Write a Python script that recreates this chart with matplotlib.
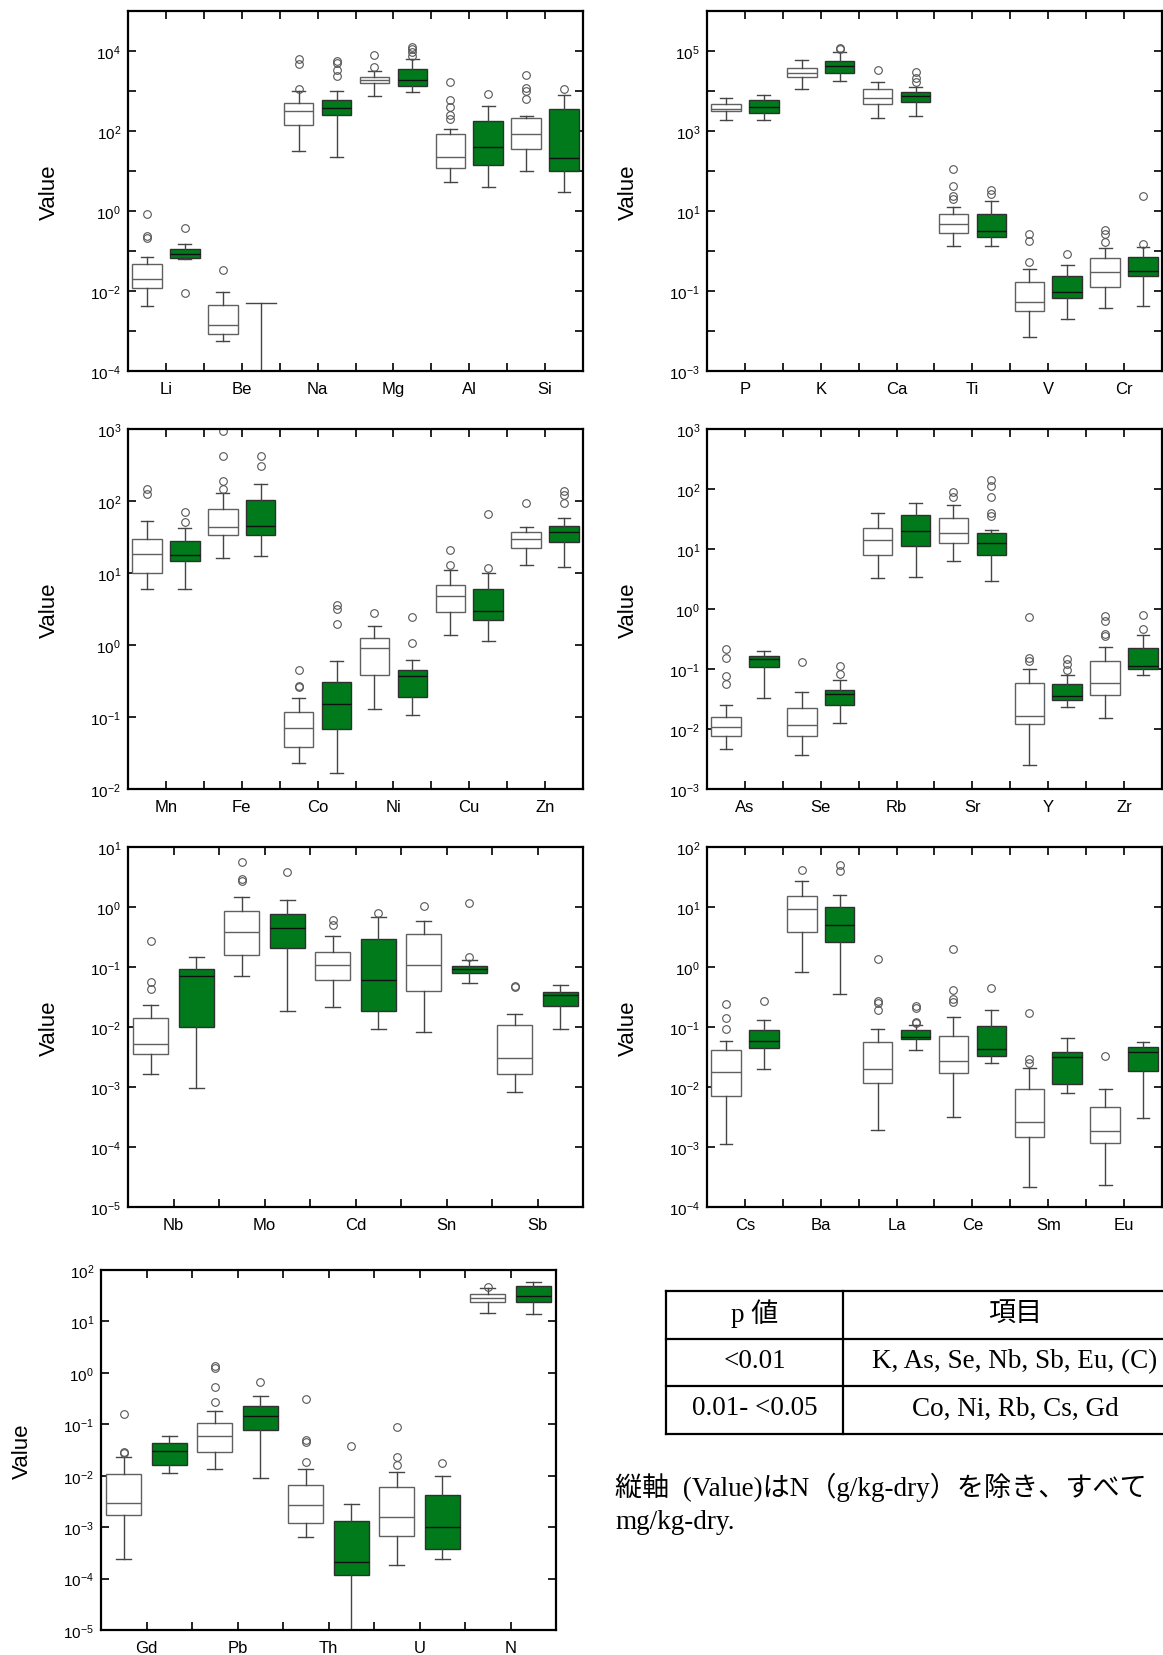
import matplotlib
matplotlib.use("Agg")
import matplotlib.pyplot as plt
from matplotlib.ticker import FixedLocator, FuncFormatter
from matplotlib.lines import Line2D

plt.rcParams['font.family'] = ['Liberation Sans', 'Noto Sans CJK JP']
plt.rcParams['mathtext.default'] = 'regular'

# ---------------------------------------------------------------------------
# Box statistics per element: (whisker low, Q1, median, Q3, whisker high)
# "W" = white group, "G" = green group; outliers listed separately.
# ---------------------------------------------------------------------------
ELEM_1 = ["Li", "Be", "Na", "Mg", "Al", "Si"]
BOX_1W = [(0.0042, 0.0119, 0.0204, 0.046, 0.0708), (0.000573, 0.000858, 0.00141, 0.00455, 0.00944),
          (31.6, 139, 322, 501, 1000), (750, 1585, 1920, 2198, 3100),
          (5.3, 11.9, 22.4, 85.8, 114), (9.8, 35.5, 85.8, 215, 237)]
OUT_1W = [[0.86, 0.237, 0.21], [0.0329], [6200, 4730, 1150], [7800, 3980],
          [1650, 607, 398, 246, 203], [2510, 1190, 1000, 643]]
BOX_1G = [(0.0645, 0.0668, 0.0826, 0.110, 0.147), (5e-6, 1e-5, 2e-5, 4e-5, 0.005),
          (22, 256, 383, 607, 980), (944, 1360, 1880, 3610, 6200),
          (3.98, 14.1, 39.8, 178, 414), (2.99, 10, 21.1, 355, 780)]
OUT_1G = [[0.383, 0.0089], [], [5620, 5010, 3410, 2410], [12600, 11000, 9440, 7500],
          [858], [1100]]

ELEM_2 = ["P", "K", "Ca", "Ti", "V", "Cr"]
BOX_2W = [(1920, 3100, 3615, 4820, 6680), (11400, 22400, 28700, 37600, 59600),
          (2150, 4730, 6680, 11200, 16800), (1.33, 2.82, 4.73, 8.41, 12.6),
          (0.00708, 0.0316, 0.0531, 0.168, 0.361), (0.0369, 0.128, 0.299, 0.668, 1.19)]
OUT_2W = [[], [], [34200], [112, 42.2, 24.2, 20], [2.66, 1.81, 0.521], [3.42, 2.66, 1.68]]
BOX_2G = [(1920, 2820, 4060, 6070, 8100), (17800, 28700, 41400, 55200, 94400),
          (2370, 5410, 7500, 9440, 12600), (1.33, 2.2, 3.1, 8.41, 17.5),
          (0.0196, 0.0668, 0.0944, 0.233, 0.438), (0.0422, 0.237, 0.322, 0.722, 1.24)]
OUT_2G = [[], [121000, 110000], [30400, 21500, 16500], [34.1, 27.1], [0.841], [24.2, 1.5]]

ELEM_3 = ["Mn", "Fe", "Co", "Ni", "Cu", "Zn"]
BOX_3W = [(5.97, 10, 18.3, 29.3, 52.7), (16, 33.7, 43.5, 77.4, 129),
          (0.0228, 0.0379, 0.0698, 0.1164, 0.184), (0.128, 0.38, 0.922, 1.27, 1.81),
          (1.37, 2.83, 4.78, 6.79, 11), (12.9, 22.4, 29.6, 36.7, 43.5)]
OUT_3W = [[148, 126], [951, 427, 190, 145], [0.447, 0.273, 0.259], [2.77], [20.6, 12.9], [92.8]]
BOX_3G = [(5.97, 14.5, 17.7, 27.5, 41.7), (17.2, 33.7, 44.5, 104, 171),
          (0.0169, 0.069, 0.152, 0.307, 0.608), (0.105, 0.188, 0.369, 0.447, 0.615),
          (1.14, 2.21, 2.95, 5.91, 10), (12, 26.9, 37.1, 44.9, 58.1)]
OUT_3G = [[69.5, 50.5], [418, 303], [3.62, 3.19, 1.95], [2.44, 1.06], [65.3, 11.7], [136, 120, 93.8]]

ELEM_4 = ["As", "Se", "Rb", "Sr", "Y", "Zr"]
BOX_4W = [(0.0047, 0.00774, 0.0109, 0.0156, 0.0251), (0.00369, 0.00774, 0.0118, 0.0221, 0.0409),
          (3.24, 7.84, 14.3, 22.1, 40.4), (6.22, 12.8, 18.2, 32.9, 54.1),
          (0.00248, 0.012, 0.0163, 0.0577, 0.1), (0.0151, 0.0374, 0.0577, 0.138, 0.23)]
OUT_4W = [[0.215, 0.151, 0.0765, 0.0555], [0.131], [], [88, 74.5], [0.726, 0.155, 0.136],
          [0.764, 0.639, 0.388, 0.355]]
BOX_4G = [(0.0329, 0.109, 0.145, 0.163, 0.197), (0.0128, 0.0255, 0.0378, 0.0441, 0.0656),
          (3.46, 11.2, 19.7, 37.3, 59.2), (2.97, 7.84, 12.4, 18.2, 21),
          (0.0236, 0.0308, 0.036, 0.0555, 0.0784), (0.0794, 0.1, 0.114, 0.224, 0.364)]
OUT_4G = [[], [0.114, 0.0815], [], [141, 114, 72.6, 39.8, 35], [0.147, 0.121, 0.0974], [0.805, 0.458]]

ELEM_5 = ["Nb", "Mo", "Cd", "Sn", "Sb"]
BOX_5W = [(0.00163, 0.00355, 0.00514, 0.0143, 0.0233), (0.0708, 0.158, 0.383, 0.858, 1.47),
          (0.0218, 0.06, 0.108, 0.18, 0.329), (0.00826, 0.0398, 0.108, 0.36, 0.577),
          (0.000815, 0.00163, 0.003, 0.0108, 0.0167)]
OUT_5W = [[0.268, 0.0562, 0.0435], [5.62, 2.97, 2.68], [0.615, 0.495], [1.05], [0.0483, 0.0458]]
BOX_5G = [(0.00096, 0.0101, 0.0708, 0.0915, 0.147), (0.0187, 0.205, 0.441, 0.755, 1.31),
          (0.00938, 0.0187, 0.0607, 0.293, 0.69), (0.0534, 0.0805, 0.0914, 0.105, 0.131),
          (0.00926, 0.0221, 0.0341, 0.0383, 0.0501)]
OUT_5G = [[], [3.78], [0.794], [1.18, 0.147], []]

ELEM_6 = ["Cs", "Ba", "La", "Ce", "Sm", "Eu"]
BOX_6W = [(0.00112, 0.00699, 0.018, 0.0408, 0.0592), (0.836, 3.78, 9.15, 15.5, 27.5),
          (0.00192, 0.0115, 0.02, 0.0555, 0.0938), (0.00312, 0.0171, 0.0268, 0.0699, 0.145),
          (0.000216, 0.00147, 0.00258, 0.00914, 0.0207), (0.00023, 0.00115, 0.00182, 0.0047, 0.00926)]
OUT_6W = [[0.239, 0.141, 0.0914], [41.4], [1.34, 0.275, 0.254, 0.195], [2.02, 0.408, 0.289, 0.258],
          [0.173, 0.0293, 0.0248], [0.0329]]
BOX_6G = [(0.02, 0.0441, 0.0592, 0.0903, 0.129), (0.35, 2.64, 5.01, 9.87, 16.1),
          (0.0419, 0.0623, 0.0681, 0.088, 0.107), (0.0255, 0.0333, 0.0424, 0.1025, 0.195),
          (0.00784, 0.0114, 0.0316, 0.0378, 0.0647), (0.003, 0.0182, 0.0378, 0.047, 0.0555)]
OUT_6G = [[0.275], [50.8, 39.3], [0.221, 0.21, 0.123, 0.118], [0.453], [], []]

ELEM_7 = ["Gd", "Pb", "Th", "U", "N"]
BOX_7W = [(0.000244, 0.0017, 0.00295, 0.011, 0.0235), (0.0135, 0.0285, 0.0601, 0.1077, 0.184),
          (0.000644, 0.0012, 0.00266, 0.0065, 0.0135), (0.000181, 0.000663, 0.00155, 0.00594, 0.0116),
          (14.8, 24.2, 28.1, 33.6, 45)]
OUT_7W = [[0.158, 0.0294, 0.0273], [1.38, 1.22, 0.531, 0.271], [0.315, 0.0496, 0.0446, 0.0185],
          [0.0873, 0.0235, 0.0159], [47]]
BOX_7G = [(0.0113, 0.0159, 0.0298, 0.044, 0.0601), (0.00916, 0.0774, 0.143, 0.223, 0.355),
          (5e-6, 0.000116, 0.00021, 0.00134, 0.00286), (0.000237, 0.000377, 0.00101, 0.00416, 0.00973),
          (14, 23.5, 30.8, 49.6, 59.3)]
OUT_7G = [[], [0.664], [0.0378], [0.0179], []]

# Table and note text
TABLE_HEAD = ["p 値", "項目"]
TABLE_ROWS = [["<0.01", "K, As, Se, Nb, Sb, Eu, (C)"],
              ["0.01- <0.05", "Co, Ni, Rb, Cs, Gd"]]
NOTE_LINES = ["縦軸  (Value)はN（g/kg-dry）を除き、すべて", "mg/kg-dry."]

# ---------------------------------------------------------------------------
W, H = 1163, 1656
fig = plt.figure(figsize=(W / 100, H / 100), dpi=100)

GREEN = '#007A1A'
EDGE_W = '#606060'
EDGE_G = '#303030'
WHISK = '#454545'
FLIER = dict(marker='o', markerfacecolor='none', markeredgecolor='#555555',
             markersize=5.5, markeredgewidth=0.8, linestyle='none')


def to_stats(boxes, outliers):
    return [dict(whislo=b[0], q1=b[1], med=b[2], q3=b[3], whishi=b[4], fliers=o)
            for b, o in zip(boxes, outliers)]


def draw_panel(left, top, elems, bw, ow, bg, og, lo_exp, hi_exp,
               every_other=False, green_caps=None):
    w, h = 455, 360
    ax = fig.add_axes([left / W, 1 - (top + h) / H, w / W, h / H])
    n = len(elems)
    pos_w = [2 * i + 0.5 for i in range(n)]
    pos_g = [2 * i + 1.5 for i in range(n)]

    ax.bxp(to_stats(bw, ow), positions=pos_w, widths=0.78, capwidths=0.34,
           patch_artist=True, manage_ticks=False,
           boxprops=dict(facecolor='white', edgecolor=EDGE_W, linewidth=1.0),
           medianprops=dict(color=EDGE_W, linewidth=1.0),
           whiskerprops=dict(color=WHISK, linewidth=1.0),
           capprops=dict(color=WHISK, linewidth=1.0),
           flierprops=FLIER)
    caps = green_caps if green_caps is not None else 0.34
    ax.bxp(to_stats(bg, og), positions=pos_g, widths=0.78, capwidths=caps,
           patch_artist=True, manage_ticks=False,
           boxprops=dict(facecolor=GREEN, edgecolor=EDGE_G, linewidth=1.0),
           medianprops=dict(color='#111111', linewidth=1.0),
           whiskerprops=dict(color=WHISK, linewidth=1.0),
           capprops=dict(color=WHISK, linewidth=1.0),
           flierprops=FLIER)

    ax.set_yscale('log')
    ax.set_xlim(0, 2 * n)
    ax.set_ylim(10.0 ** lo_exp, 10.0 ** hi_exp)

    # x ticks at every half-category, element names under the category centres
    xt = list(range(1, 2 * n))
    ax.xaxis.set_major_locator(FixedLocator(xt))
    ax.set_xticklabels([elems[(k - 1) // 2] if k % 2 == 1 else '' for k in xt], fontsize=12)

    exps = list(range(lo_exp, hi_exp + 1))
    ax.yaxis.set_major_locator(FixedLocator([10.0 ** e for e in exps]))
    ax.yaxis.set_minor_locator(FixedLocator([]))

    def fmt(v, _p):
        import math
        e = int(round(math.log10(v)))
        if every_other and (e - lo_exp) % 2 != 0:
            return ''
        return r'$10^{%d}$' % e

    ax.yaxis.set_major_formatter(FuncFormatter(fmt))
    ax.tick_params(axis='both', which='major', direction='in', length=6, width=1.2,
                   top=True, right=True, color='black')
    ax.tick_params(axis='x', pad=7)
    ax.tick_params(axis='y', labelsize=11, pad=5)
    for s in ax.spines.values():
        s.set_linewidth(1.6)
    ax.set_ylabel('Value', fontsize=16)
    ax.yaxis.set_label_coords(-0.15, 0.5)
    return ax


be_caps = [0.34, 0.8, 0.34, 0.34, 0.34, 0.34]
draw_panel(128, 12, ELEM_1, BOX_1W, OUT_1W, BOX_1G, OUT_1G, -4, 5, every_other=True,
           green_caps=be_caps)
draw_panel(707, 12, ELEM_2, BOX_2W, OUT_2W, BOX_2G, OUT_2G, -3, 6, every_other=True)
draw_panel(128, 430, ELEM_3, BOX_3W, OUT_3W, BOX_3G, OUT_3G, -2, 3)
draw_panel(707, 430, ELEM_4, BOX_4W, OUT_4W, BOX_4G, OUT_4G, -3, 3)
draw_panel(128, 848, ELEM_5, BOX_5W, OUT_5W, BOX_5G, OUT_5G, -5, 1)
draw_panel(707, 848, ELEM_6, BOX_6W, OUT_6W, BOX_6G, OUT_6G, -4, 2)
draw_panel(101, 1271, ELEM_7, BOX_7W, OUT_7W, BOX_7G, OUT_7G, -5, 2)

# ---------------------------------------------------------------------------
# significance table
SERIF = ['Liberation Serif', 'Noto Sans CJK JP']
tx0, tx1, tx2 = 666, 843, 1195
ty = [1292, 1340, 1387, 1435]


def fig_line(xs, ys):
    fig.add_artist(Line2D([x / W for x in xs], [1 - y / H for y in ys],
                          transform=fig.transFigure, color='black', linewidth=1.6))


for y in ty:
    fig_line([tx0, tx2], [y, y])
for x in (tx0, tx1, tx2):
    fig_line([x, x], [ty[0], ty[-1]])

rows = [TABLE_HEAD] + TABLE_ROWS
for r, (c1, c2) in enumerate(rows):
    yc = (ty[r] + ty[r + 1]) / 2 - 2
    fig.text(((tx0 + tx1) / 2) / W, 1 - yc / H, c1, ha='center', va='center',
             fontsize=19.5, family=SERIF)
    fig.text(((tx1 + tx2) / 2 - 4) / W, 1 - yc / H, c2, ha='center', va='center',
             fontsize=19.5, family=SERIF)

fig.text(615 / W, 1 - 1487 / H, NOTE_LINES[0], ha='left', va='center',
         fontsize=19.5, family=SERIF)
fig.text(615 / W, 1 - 1523 / H, NOTE_LINES[1], ha='left', va='center',
         fontsize=19.5, family=SERIF)

fig.savefig('out.png', dpi=100)
